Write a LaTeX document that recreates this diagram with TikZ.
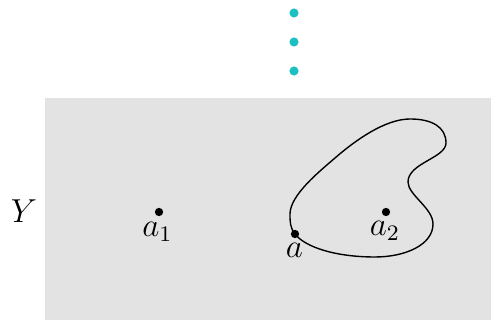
\documentclass[tikz,border=0pt]{standalone}
\usepackage{tikz}
\usepackage{color}

\definecolor{dotcyan}{HTML}{1CBFC2}
\definecolor{regiongray}{HTML}{E3E3E3}

\begin{document}
\begin{tikzpicture}[x=0.0127cm,y=-0.0127cm,
    pt/.style={circle,fill=black,inner sep=0pt,minimum size=3pt},
    vdot/.style={circle,fill=dotcyan,inner sep=0pt,minimum size=3.3pt},
    lbl/.style={anchor=base,font=\large}]
    \useasboundingbox (0,0) rectangle (491,320);
    \fill[regiongray] (45,98) rectangle (491,320);

    % dots above the region
    \foreach \y [count=\i] in {13,42,71} {
      \node[vdot] (v\i) at (294,\y) {};
    }

    % the closed curve
    \draw[line width=0.5pt] (295,234)
      .. controls (290,227.5) and (290,222) .. (290,214)
      .. controls (290,195) and (320,171) .. (335,158)
      .. controls (355,140.6) and (385,119) .. (410,119)
      .. controls (432,119) and (446,127) .. (446,143)
      .. controls (446,158) and (408,163) .. (408,182)
      .. controls (408,195) and (433,208) .. (433,224)
      .. controls (433,245) and (405,257) .. (375,257)
      .. controls (335,257) and (305,247) .. (295,234) -- cycle;

    \node[lbl] (Y) at (24,222.5) {$Y$};
    \node[pt] (a1) at (159,212) {};
    \node[lbl] (a1lbl) at (157.5,237) {$a_1$};
    \node[pt] (a2) at (386,212) {};
    \node[lbl] (a2lbl) at (385,236) {$a_2$};
    \node[pt] (a) at (295,234) {};
    \node[lbl] (albl) at (294.5,258) {$a$};
  \end{tikzpicture}
\end{document}
